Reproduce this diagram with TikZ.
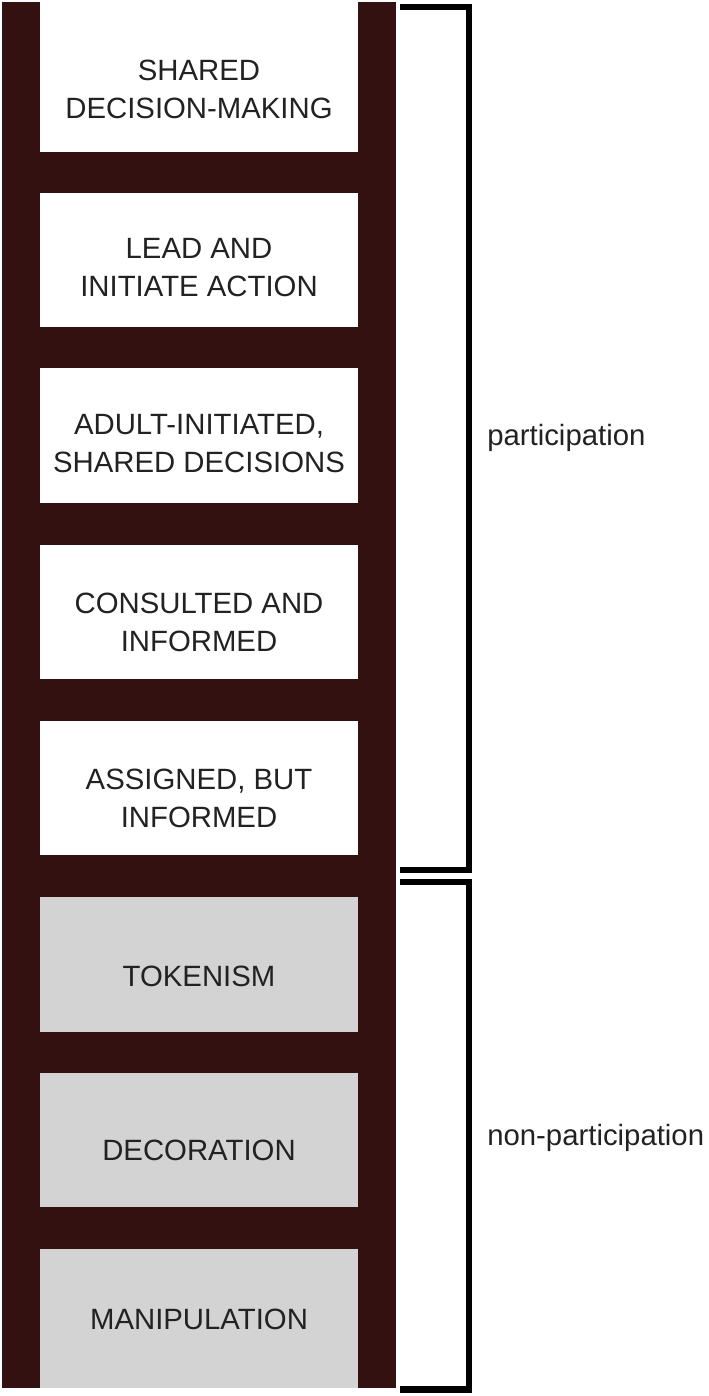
\documentclass[tikz,border=0pt]{standalone}
\usepackage{fontspec}
\setmainfont{Liberation Sans}
\begin{document}
\begin{tikzpicture}[x=0.75pt,y=-0.75pt,
  rail/.style={fill=railcol,draw=none},
  rungbox/.style={draw=none,minimum width=318*0.75pt,inner sep=0pt,outer sep=0pt},
  upper/.style={rungbox,fill=white},
  lower/.style={rungbox,fill=lowgray},
  lbl/.style={text=txtcol,align=center,font=\fontsize{22}{28.5}\selectfont,inner sep=0pt},
  side/.style={text=txtcol,font=\fontsize{22}{28.5}\selectfont,inner sep=0pt,anchor=base west},
  brace/.style={draw=black,line width=5.2pt,line join=miter,line cap=butt}]
\definecolor{railcol}{HTML}{331111}
\definecolor{lowgray}{HTML}{D3D3D3}
\definecolor{txtcol}{HTML}{222222}
\useasboundingbox (0,0) rectangle (708,1396);
\fill[railcol] (2,2) rectangle (396,1388);
% boxes
\node[upper,minimum height=150*0.75pt] (b1) at (199,77) {};
\node[upper,minimum height=134*0.75pt] (b2) at (199,260) {};
\node[upper,minimum height=135*0.75pt] (b3) at (199,435.5) {};
\node[upper,minimum height=134*0.75pt] (b4) at (199,612) {};
\node[upper,minimum height=134*0.75pt] (b5) at (199,788) {};
\node[lower,minimum height=135*0.75pt] (b6) at (199,964.5) {};
\node[lower,minimum height=134*0.75pt] (b7) at (199,1140) {};
\node[lower,minimum height=139*0.75pt] (b8) at (199,1318.5) {};
% labels
\node[lbl] (t1) at (199,89) {SHARED\\DECISION-MAKING};
\node[lbl] (t2) at (199,268) {LEAD AND\\INITIATE ACTION};
\node[lbl] (t3) at (199,444) {ADULT-INITIATED,\\SHARED DECISIONS};
\node[lbl] (t4) at (199,622) {CONSULTED AND\\INFORMED};
\node[lbl] (t5) at (199,798) {ASSIGNED, BUT\\INFORMED};
\node[lbl] (t6) at (199,976) {TOKENISM};
\node[lbl] (t7) at (199,1150) {DECORATION};
\node[lbl] (t8) at (199,1319) {MANIPULATION};
% brackets
\coordinate (p1) at (400,7);
\coordinate (p2) at (469,7);
\coordinate (p3) at (469,870);
\coordinate (p4) at (400,870);
\coordinate (q1) at (400,882);
\coordinate (q2) at (469,882);
\coordinate (q3) at (469,1389.5);
\coordinate (q4) at (400,1389.5);
\draw[brace] (p1) -- (p2) -- (p3) -- (p4);
\draw[brace] (q1) -- (q2) -- (q3) -- (q4);
\node[side] (part) at (487,445) {participation};
\node[side] (nonpart) at (487,1145) {non-participation};
\end{tikzpicture}
\end{document}
